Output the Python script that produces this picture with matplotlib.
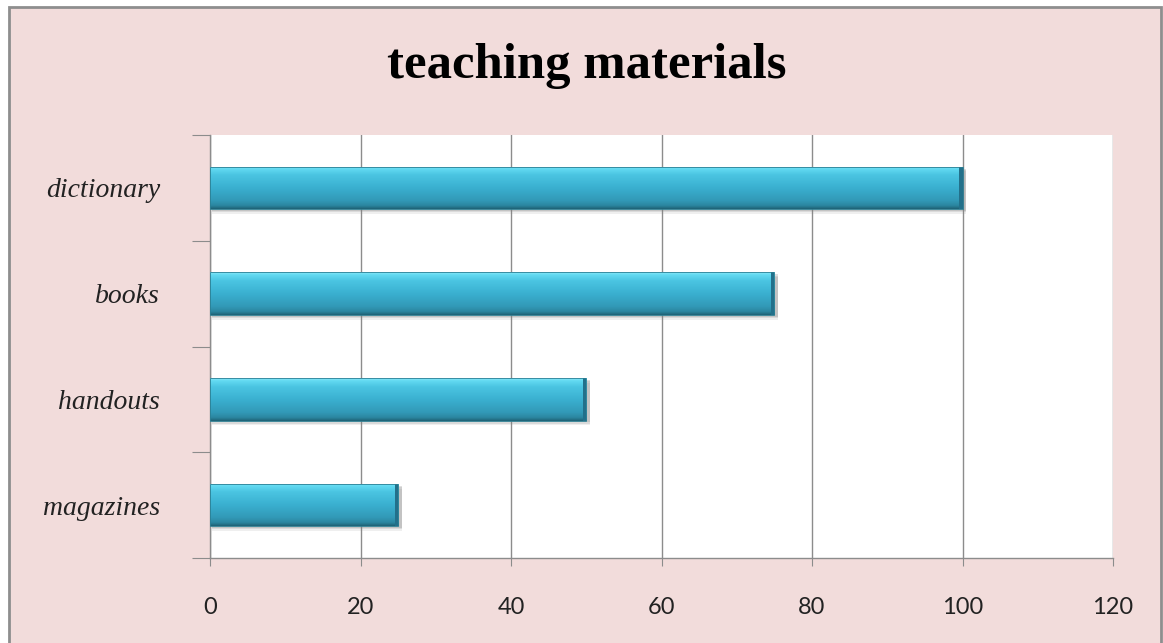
import matplotlib
matplotlib.use("Agg")
import matplotlib.pyplot as plt
import numpy as np
from matplotlib.patches import Rectangle
from matplotlib.colors import LinearSegmentedColormap

categories = ["dictionary", "books", "handouts", "magazines"]
values = [100, 75, 50, 25]
xticks = [0, 20, 40, 60, 80, 100, 120]
title = "teaching materials"

W, H = 1163, 643
fig = plt.figure(figsize=(W / 100, H / 100), dpi=100, facecolor="white")

# chart area background with border
fig.patches.append(Rectangle((9 / W, -0.05), (1161 - 9) / W, 1.05 - 7 / H,
                             transform=fig.transFigure, facecolor="#F2DCDB",
                             edgecolor="#8E8E8E", linewidth=2.0, zorder=-10))

ax = fig.add_axes([210 / W, 1 - 558 / H, (1113 - 210) / W, (558 - 135) / H])
ax.set_zorder(1)
ax.set_facecolor("white")

pos = list(range(len(categories)))
bh = 0.40

# soft shadow
for off, a in [(0.045, 0.12), (0.03, 0.18), (0.018, 0.25)]:
    ax.barh([p + off for p in pos], [v + 0.3 for v in values], height=bh,
            left=0.2, color="#808080", alpha=a, zorder=2, linewidth=0)

# main body (gradient fill clipped to the bars)
bars = ax.barh(pos, values, height=bh, color="#36A7C7", linewidth=0, zorder=3)
cmap = LinearSegmentedColormap.from_list("bevel", [
    (0.0, "#8FE9F8"), (0.06, "#63DAF2"), (0.2, "#4BC5E2"), (0.5, "#3AB0D0"),
    (0.8, "#3299B7"), (0.92, "#2B86A0"), (1.0, "#1E6174")])
grad = np.linspace(0, 1, 256).reshape(-1, 1)
for b in bars:
    x0, y0, w, h = b.get_x(), b.get_y(), b.get_width(), b.get_height()
    im = ax.imshow(grad, cmap=cmap, aspect="auto", origin="upper",
                   extent=[x0, x0 + w, y0 + h, y0], zorder=3.5,
                   interpolation="bilinear")
    im.set_clip_path(b)
# right end cap
ax.barh(pos, [0.45] * len(values), left=[v - 0.45 for v in values], height=bh,
        color="#23708A", linewidth=0, zorder=5)
ax.barh(pos, values, height=bh, fill=False, edgecolor="#2B7F94",
        linewidth=0.6, zorder=6)

ax.set_xlim(0, 120)
ax.set_ylim(len(categories) - 0.5, -0.5)

ax.set_xticks(xticks)
ax.set_xticklabels([str(t) for t in xticks], fontfamily="Lato", fontsize=17,
                   color="#222222")
ax.tick_params(axis="x", length=6, color="#8C8C8C", pad=22)

ax.set_yticks([p - 0.5 for p in pos] + [len(categories) - 0.5])
ax.set_yticklabels([])
ax.tick_params(axis="y", which="major", length=13, color="#8C8C8C")
ax.set_yticks(pos, minor=True)
ax.set_yticklabels(categories, minor=True, fontfamily="Liberation Serif",
                   fontstyle="italic", fontsize=20, color="#222222")
ax.tick_params(axis="y", which="minor", length=0, pad=36)

ax.grid(axis="x", color="#8C8C8C", linewidth=1.0, zorder=1)
ax.set_axisbelow(True)
for s in ["top", "right"]:
    ax.spines[s].set_visible(False)
for s in ["left", "bottom"]:
    ax.spines[s].set_color("#8C8C8C")
    ax.spines[s].set_linewidth(1.0)

fig.text(587 / W, 1 - 66 / H, title, ha="center", va="center",
         fontfamily="Liberation Serif", fontweight="bold", fontsize=36.5,
         color="black")

fig.savefig("out.png", dpi=100, facecolor="white")
